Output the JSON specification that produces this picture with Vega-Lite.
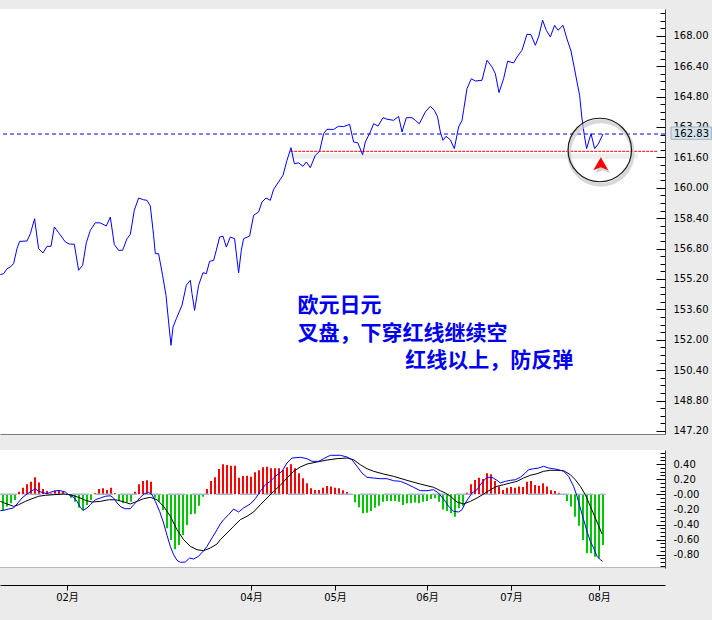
{
  "$schema": "https://vega.github.io/schema/vega-lite/v6.json",
  "background": "#ebebeb",
  "padding": {"left": 0, "top": 7, "right": 0, "bottom": 18},
  "spacing": 16,
  "bounds": "flush",
  "config": {"view": {"stroke": null, "fill": "#ffffff"}, "font": "DejaVu Sans"},
  "datasets": {
    "price": [{"d":-0.68,"v":155.43},{"d":0.15,"v":155.48},{"d":1.0,"v":155.74},{"d":1.83,"v":155.83},{"d":2.65,"v":156.01},{"d":3.5,"v":156.80},{"d":4.15,"v":157.18},{"d":6.0,"v":157.20},{"d":6.83,"v":157.58},{"d":7.9,"v":158.37},{"d":8.33,"v":157.67},{"d":8.9,"v":156.80},{"d":10.0,"v":156.57},{"d":11.0,"v":156.92},{"d":12.0,"v":156.92},{"d":12.83,"v":157.94},{"d":13.9,"v":157.64},{"d":15.58,"v":157.15},{"d":16.58,"v":157.04},{"d":17.83,"v":157.03},{"d":18.9,"v":155.66},{"d":19.9,"v":155.92},{"d":20.83,"v":157.11},{"d":21.83,"v":157.76},{"d":23.08,"v":158.16},{"d":24.33,"v":158.15},{"d":25.83,"v":157.99},{"d":26.83,"v":158.46},{"d":27.83,"v":157.01},{"d":28.9,"v":156.71},{"d":29.9,"v":156.71},{"d":31.0,"v":157.32},{"d":31.83,"v":157.55},{"d":32.83,"v":158.82},{"d":33.9,"v":159.46},{"d":35.15,"v":159.37},{"d":36.0,"v":159.34},{"d":36.83,"v":159.04},{"d":37.65,"v":157.50},{"d":38.08,"v":156.53},{"d":38.9,"v":156.53},{"d":39.9,"v":155.39},{"d":40.75,"v":154.34},{"d":41.4,"v":152.94},{"d":42.0,"v":151.71},{"d":42.5,"v":152.67},{"d":43.33,"v":153.11},{"d":44.75,"v":153.82},{"d":45.83,"v":154.87},{"d":46.83,"v":155.13},{"d":47.25,"v":154.43},{"d":47.9,"v":153.55},{"d":48.9,"v":154.87},{"d":50.0,"v":155.53},{"d":50.83,"v":155.48},{"d":51.65,"v":156.13},{"d":52.65,"v":156.18},{"d":53.33,"v":156.71},{"d":54.15,"v":157.41},{"d":55.0,"v":157.45},{"d":55.83,"v":156.88},{"d":56.83,"v":157.41},{"d":57.9,"v":157.32},{"d":58.9,"v":155.53},{"d":59.58,"v":156.71},{"d":60.15,"v":157.32},{"d":61.65,"v":157.46},{"d":62.65,"v":158.55},{"d":63.9,"v":158.73},{"d":64.75,"v":159.25},{"d":65.75,"v":159.46},{"d":66.83,"v":159.34},{"d":67.65,"v":159.92},{"d":68.9,"v":160.31},{"d":70.0,"v":160.66},{"d":71.0,"v":161.45},{"d":72.0,"v":162.11},{"d":72.83,"v":161.27},{"d":73.9,"v":161.31},{"d":75.0,"v":161.13},{"d":75.83,"v":161.36},{"d":76.83,"v":161.06},{"d":78.08,"v":161.71},{"d":79.15,"v":161.92},{"d":80.15,"v":162.85},{"d":81.0,"v":163.08},{"d":82.65,"v":163.07},{"d":83.9,"v":163.24},{"d":85.15,"v":163.22},{"d":86.65,"v":163.34},{"d":87.65,"v":162.41},{"d":88.7,"v":162.37},{"d":89.9,"v":161.74},{"d":90.58,"v":162.41},{"d":91.83,"v":162.94},{"d":92.65,"v":163.37},{"d":93.75,"v":163.25},{"d":95.0,"v":163.69},{"d":96.0,"v":163.61},{"d":97.65,"v":163.55},{"d":98.9,"v":163.76},{"d":99.75,"v":162.94},{"d":100.83,"v":163.69},{"d":102.25,"v":163.69},{"d":103.08,"v":163.55},{"d":104.08,"v":163.37},{"d":105.58,"v":163.99},{"d":106.83,"v":164.29},{"d":107.83,"v":164.08},{"d":108.65,"v":163.73},{"d":109.33,"v":162.94},{"d":110.0,"v":162.50},{"d":110.75,"v":162.71},{"d":111.83,"v":162.53},{"d":112.83,"v":162.06},{"d":113.9,"v":163.20},{"d":114.75,"v":163.55},{"d":115.15,"v":164.08},{"d":116.0,"v":165.22},{"d":117.08,"v":165.74},{"d":118.08,"v":165.62},{"d":119.75,"v":165.66},{"d":121.0,"v":166.71},{"d":122.25,"v":166.36},{"d":123.08,"v":166.01},{"d":124.0,"v":165.01},{"d":125.15,"v":165.74},{"d":126.15,"v":166.66},{"d":127.65,"v":166.57},{"d":128.5,"v":166.88},{"d":129.75,"v":167.24},{"d":131.0,"v":168.08},{"d":132.0,"v":168.06},{"d":133.08,"v":167.50},{"d":133.9,"v":167.94},{"d":134.9,"v":168.82},{"d":135.83,"v":168.29},{"d":136.83,"v":167.94},{"d":137.9,"v":168.55},{"d":138.75,"v":168.29},{"d":140.0,"v":168.55},{"d":141.0,"v":167.83},{"d":142.0,"v":167.20},{"d":142.83,"v":166.31},{"d":143.5,"v":165.57},{"d":144.15,"v":164.87},{"d":144.7,"v":163.73},{"d":145.33,"v":162.76},{"d":145.9,"v":162.06},{"d":147.0,"v":162.85},{"d":147.9,"v":162.06},{"d":148.83,"v":162.31},{"d":150.0,"v":162.83}],
    "dif": [{"d":-0.68,"v":-0.217},{"d":0.15,"v":-0.212},{"d":1.4,"v":-0.195},{"d":2.65,"v":-0.181},{"d":3.5,"v":-0.128},{"d":4.75,"v":-0.049},{"d":6.0,"v":0.004},{"d":7.25,"v":0.048},{"d":8.08,"v":0.074},{"d":8.9,"v":0.04},{"d":9.75,"v":0.026},{"d":11.0,"v":0.008},{"d":11.83,"v":0.026},{"d":13.08,"v":0.048},{"d":14.33,"v":0.048},{"d":15.58,"v":0.03},{"d":16.4,"v":-0.005},{"d":17.65,"v":-0.04},{"d":18.5,"v":-0.093},{"d":19.33,"v":-0.172},{"d":20.0,"v":-0.212},{"d":21.0,"v":-0.181},{"d":21.83,"v":-0.138},{"d":23.08,"v":-0.072},{"d":24.33,"v":-0.049},{"d":25.58,"v":-0.026},{"d":26.83,"v":-0.019},{"d":27.65,"v":-0.049},{"d":28.5,"v":-0.115},{"d":29.5,"v":-0.168},{"d":30.58,"v":-0.191},{"d":31.83,"v":-0.191},{"d":32.65,"v":-0.138},{"d":33.5,"v":-0.093},{"d":34.33,"v":-0.04},{"d":35.33,"v":0.008},{"d":36.4,"v":0.026},{"d":37.25,"v":-0.005},{"d":38.08,"v":-0.093},{"d":39.15,"v":-0.225},{"d":40.15,"v":-0.38},{"d":41.0,"v":-0.543},{"d":41.83,"v":-0.689},{"d":42.65,"v":-0.8},{"d":43.5,"v":-0.874},{"d":44.33,"v":-0.901},{"d":45.58,"v":-0.897},{"d":46.65,"v":-0.844},{"d":47.65,"v":-0.857},{"d":48.9,"v":-0.821},{"d":50.0,"v":-0.755},{"d":51.0,"v":-0.689},{"d":52.25,"v":-0.579},{"d":53.5,"v":-0.469},{"d":54.33,"v":-0.393},{"d":55.15,"v":-0.336},{"d":56.4,"v":-0.27},{"d":57.65,"v":-0.195},{"d":58.9,"v":-0.234},{"d":60.15,"v":-0.181},{"d":61.83,"v":-0.128},{"d":63.08,"v":-0.058},{"d":64.33,"v":0.04},{"d":65.58,"v":0.127},{"d":66.83,"v":0.172},{"d":68.08,"v":0.238},{"d":69.75,"v":0.305},{"d":71.0,"v":0.415},{"d":72.25,"v":0.481},{"d":74.33,"v":0.49},{"d":76.0,"v":0.472},{"d":77.25,"v":0.437},{"d":78.9,"v":0.437},{"d":80.15,"v":0.472},{"d":81.83,"v":0.517},{"d":84.33,"v":0.517},{"d":86.0,"v":0.494},{"d":87.25,"v":0.458},{"d":88.5,"v":0.371},{"d":89.75,"v":0.282},{"d":91.0,"v":0.225},{"d":92.65,"v":0.216},{"d":94.33,"v":0.207},{"d":96.0,"v":0.207},{"d":97.65,"v":0.18},{"d":99.33,"v":0.172},{"d":101.0,"v":0.136},{"d":102.65,"v":0.093},{"d":104.33,"v":0.048},{"d":106.0,"v":0.048},{"d":107.65,"v":0.061},{"d":108.9,"v":0.017},{"d":109.75,"v":-0.04},{"d":110.58,"v":-0.093},{"d":111.4,"v":-0.159},{"d":112.65,"v":-0.225},{"d":113.9,"v":-0.234},{"d":114.75,"v":-0.204},{"d":115.58,"v":-0.115},{"d":116.4,"v":-0.049},{"d":117.25,"v":0.017},{"d":118.5,"v":0.061},{"d":119.33,"v":0.127},{"d":120.15,"v":0.18},{"d":121.0,"v":0.225},{"d":122.25,"v":0.225},{"d":123.5,"v":0.185},{"d":124.33,"v":0.15},{"d":125.58,"v":0.172},{"d":126.83,"v":0.185},{"d":128.08,"v":0.193},{"d":129.33,"v":0.225},{"d":130.58,"v":0.282},{"d":131.4,"v":0.326},{"d":132.65,"v":0.339},{"d":133.9,"v":0.348},{"d":135.15,"v":0.371},{"d":136.4,"v":0.348},{"d":137.65,"v":0.339},{"d":138.9,"v":0.326},{"d":140.15,"v":0.305},{"d":141.4,"v":0.238},{"d":142.65,"v":0.106},{"d":143.5,"v":-0.026},{"d":144.33,"v":-0.181},{"d":145.15,"v":-0.336},{"d":146.0,"v":-0.49},{"d":146.83,"v":-0.623},{"d":147.65,"v":-0.711},{"d":148.5,"v":-0.821},{"d":149.33,"v":-0.866},{"d":149.9,"v":-0.887}],
    "dea": [{"d":-0.68,"v":-0.093},{"d":1.0,"v":-0.128},{"d":2.65,"v":-0.159},{"d":3.9,"v":-0.138},{"d":5.58,"v":-0.093},{"d":7.25,"v":-0.058},{"d":8.9,"v":-0.026},{"d":10.58,"v":-0.013},{"d":12.65,"v":-0.005},{"d":15.15,"v":0.004},{"d":16.83,"v":-0.005},{"d":18.9,"v":-0.04},{"d":20.58,"v":-0.079},{"d":22.25,"v":-0.102},{"d":24.33,"v":-0.093},{"d":26.4,"v":-0.072},{"d":28.08,"v":-0.072},{"d":29.75,"v":-0.093},{"d":31.83,"v":-0.128},{"d":33.5,"v":-0.093},{"d":35.15,"v":-0.058},{"d":36.83,"v":-0.04},{"d":38.5,"v":-0.072},{"d":40.15,"v":-0.159},{"d":41.83,"v":-0.291},{"d":43.5,"v":-0.469},{"d":45.15,"v":-0.601},{"d":46.83,"v":-0.689},{"d":48.5,"v":-0.734},{"d":50.15,"v":-0.747},{"d":51.83,"v":-0.711},{"d":53.5,"v":-0.658},{"d":54.33,"v":-0.601},{"d":56.0,"v":-0.513},{"d":57.65,"v":-0.424},{"d":59.33,"v":-0.336},{"d":61.0,"v":-0.291},{"d":62.65,"v":-0.234},{"d":64.33,"v":-0.138},{"d":66.0,"v":-0.049},{"d":67.65,"v":0.04},{"d":69.33,"v":0.119},{"d":71.0,"v":0.216},{"d":72.65,"v":0.305},{"d":74.33,"v":0.362},{"d":76.0,"v":0.401},{"d":78.5,"v":0.428},{"d":81.0,"v":0.454},{"d":83.5,"v":0.472},{"d":86.0,"v":0.481},{"d":87.65,"v":0.458},{"d":89.33,"v":0.392},{"d":91.0,"v":0.339},{"d":92.65,"v":0.305},{"d":95.15,"v":0.269},{"d":97.65,"v":0.238},{"d":101.0,"v":0.185},{"d":104.33,"v":0.136},{"d":107.65,"v":0.093},{"d":109.33,"v":0.048},{"d":110.58,"v":0.017},{"d":111.83,"v":-0.026},{"d":113.5,"v":-0.102},{"d":115.15,"v":-0.128},{"d":116.83,"v":-0.093},{"d":118.5,"v":-0.049},{"d":120.15,"v":0.004},{"d":121.83,"v":0.061},{"d":123.5,"v":0.106},{"d":125.15,"v":0.127},{"d":126.83,"v":0.15},{"d":128.5,"v":0.172},{"d":130.15,"v":0.216},{"d":131.83,"v":0.252},{"d":133.5,"v":0.273},{"d":135.15,"v":0.305},{"d":136.83,"v":0.318},{"d":138.5,"v":0.318},{"d":140.15,"v":0.313},{"d":141.83,"v":0.26},{"d":143.08,"v":0.193},{"d":144.33,"v":0.106},{"d":145.58,"v":-0.005},{"d":146.83,"v":-0.159},{"d":148.08,"v":-0.314},{"d":149.15,"v":-0.446},{"d":149.75,"v":-0.526}],
    "hist": [{"d":0,"h":-0.221},{"d":1,"h":-0.163},{"d":2,"h":-0.119},{"d":3,"h":-0.075},{"d":4,"h":0.035},{"d":5,"h":0.088},{"d":6,"h":0.132},{"d":7,"h":0.168},{"d":8,"h":0.225},{"d":9,"h":0.155},{"d":10,"h":0.071},{"d":11,"h":0.044},{"d":12,"h":0.013},{"d":13,"h":0.044},{"d":14,"h":0.053},{"d":15,"h":0.035},{"d":16,"h":-0.01},{"d":17,"h":-0.044},{"d":18,"h":-0.097},{"d":19,"h":-0.177},{"d":20,"h":-0.216},{"d":21,"h":-0.141},{"d":22,"h":-0.075},{"d":23,"h":0.013},{"d":24,"h":0.071},{"d":25,"h":0.079},{"d":26,"h":0.057},{"d":27,"h":0.088},{"d":28,"h":0.013},{"d":29,"h":-0.088},{"d":30,"h":-0.119},{"d":31,"h":-0.106},{"d":32,"h":-0.097},{"d":33,"h":0.035},{"d":34,"h":0.132},{"d":35,"h":0.177},{"d":36,"h":0.185},{"d":37,"h":0.168},{"d":38,"h":-0.044},{"d":39,"h":-0.097},{"d":40,"h":-0.208},{"d":41,"h":-0.45},{"d":42,"h":-0.605},{"d":43,"h":-0.728},{"d":44,"h":-0.671},{"d":45,"h":-0.539},{"d":46,"h":-0.406},{"d":47,"h":-0.265},{"d":48,"h":-0.256},{"d":49,"h":-0.15},{"d":50,"h":-0.031},{"d":51,"h":0.071},{"d":52,"h":0.177},{"d":53,"h":0.225},{"d":54,"h":0.336},{"d":55,"h":0.397},{"d":56,"h":0.389},{"d":57,"h":0.38},{"d":58,"h":0.38},{"d":59,"h":0.221},{"d":60,"h":0.243},{"d":61,"h":0.247},{"d":62,"h":0.234},{"d":63,"h":0.291},{"d":64,"h":0.318},{"d":65,"h":0.358},{"d":66,"h":0.366},{"d":67,"h":0.344},{"d":68,"h":0.344},{"d":69,"h":0.344},{"d":70,"h":0.322},{"d":71,"h":0.358},{"d":72,"h":0.397},{"d":73,"h":0.344},{"d":74,"h":0.278},{"d":75,"h":0.212},{"d":76,"h":0.146},{"d":77,"h":0.079},{"d":78,"h":0.057},{"d":79,"h":0.057},{"d":80,"h":0.088},{"d":81,"h":0.11},{"d":82,"h":0.102},{"d":83,"h":0.088},{"d":84,"h":0.079},{"d":85,"h":0.053},{"d":86,"h":0.031},{"d":87,"h":0},{"d":88,"h":-0.106},{"d":89,"h":-0.172},{"d":90,"h":-0.252},{"d":91,"h":-0.243},{"d":92,"h":-0.221},{"d":93,"h":-0.177},{"d":94,"h":-0.15},{"d":95,"h":-0.097},{"d":96,"h":-0.088},{"d":97,"h":-0.088},{"d":98,"h":-0.088},{"d":99,"h":-0.097},{"d":100,"h":-0.141},{"d":101,"h":-0.119},{"d":102,"h":-0.119},{"d":103,"h":-0.11},{"d":104,"h":-0.119},{"d":105,"h":-0.097},{"d":106,"h":-0.088},{"d":107,"h":-0.062},{"d":108,"h":-0.053},{"d":109,"h":-0.097},{"d":110,"h":-0.2},{"d":111,"h":-0.221},{"d":112,"h":-0.252},{"d":113,"h":-0.296},{"d":114,"h":-0.185},{"d":115,"h":-0.15},{"d":116,"h":0.02},{"d":117,"h":0.132},{"d":118,"h":0.19},{"d":119,"h":0.221},{"d":120,"h":0.203},{"d":121,"h":0.278},{"d":122,"h":0.265},{"d":123,"h":0.177},{"d":124,"h":0.102},{"d":125,"h":0.057},{"d":126,"h":0.088},{"d":127,"h":0.097},{"d":128,"h":0.088},{"d":129,"h":0.102},{"d":130,"h":0.097},{"d":131,"h":0.168},{"d":132,"h":0.177},{"d":133,"h":0.124},{"d":134,"h":0.115},{"d":135,"h":0.146},{"d":136,"h":0.102},{"d":137,"h":0.053},{"d":138,"h":0.044},{"d":139,"h":0.022},{"d":140,"h":0},{"d":141,"h":-0.088},{"d":142,"h":-0.163},{"d":143,"h":-0.296},{"d":144,"h":-0.415},{"d":145,"h":-0.605},{"d":146,"h":-0.781},{"d":147,"h":-0.781},{"d":148,"h":-0.826},{"d":149,"h":-0.848},{"d":150,"h":-0.671}],
    "notes": [{"d":73.65,"v":153.78,"t":"欧元日元"},{"d":73.65,"v":152.32,"t":"叉盘，下穿红线继续空"},{"d":100.58,"v":150.91,"t":"红线以上，防反弹"}],
    "last": [{"v":162.83}]
  },
  "vconcat": [
    {
      "width": 665,
      "height": 425,
      "resolve": {"axis": {"x": "independent", "y": "independent"}},
      "layer": [
        {
          "data": {"values": [{}]},
          "mark": {"type": "rect", "color": "#eeeeee"},
          "encoding": {
            "x": {"datum": 71.8, "type": "quantitative", "scale": {"domain": [-0.75, 165.5], "nice": false, "zero": false},
                  "axis": {"orient": "bottom", "title": null, "grid": false, "ticks": false, "labels": false, "domainColor": "#7a7a7a"}},
            "x2": {"datum": 158.8},
            "y": {"datum": 161.8, "type": "quantitative", "scale": {"domain": [147.042, 169.41], "nice": false, "zero": false},
                  "axis": {"orient": "right", "title": null, "grid": false,
                           "values": [147.2,147.6,148,148.4,148.8,149.2,149.6,150,150.4,150.8,151.2,151.6,152,152.4,152.8,153.2,153.6,154,154.4,154.8,155.2,155.6,156,156.4,156.8,157.2,157.6,158,158.4,158.8,159.2,159.6,160,160.4,160.8,161.2,161.6,162,162.4,162.8,163.2,163.6,164,164.4,164.8,165.2,165.6,166,166.4,166.8,167.2,167.6,168,168.4,168.8,169.2],
                           "labelExpr": "abs(round((datum.value-147.2)*10)) % 16 == 0 ? format(datum.value, '.2f') : ''",
                           "tickSize": -5,
                           "tickColor": "#000000", "domainColor": "#404040", "labelPadding": 13,
                           "labelFont": "DejaVu Sans", "labelFontSize": 10, "labelColor": "#000000", "labelOverlap": false, "labelFlush": false}},
            "y2": {"datum": 161.53}
          }
        },
        {
          "data": {"name": "last"},
          "mark": {"type": "rule", "color": "#0000ff", "strokeDash": [4, 3], "strokeWidth": 1, "clip": true},
          "encoding": {
            "y": {"field": "v", "type": "quantitative", "scale": {"domain": [147.042, 169.41], "nice": false, "zero": false},
                  "axis": {"orient": "right", "title": null, "grid": false, "labels": false, "domain": false,
                           "values": [147.2,148.8,150.4,152,153.6,155.2,156.8,158.4,160,161.6,163.2,164.8,166.4,168],
                           "tickSize": -9, "tickColor": "#000000"}}
          }
        },
        {
          "data": {"values": [{}]},
          "mark": {"type": "rule", "color": "#ff0000", "strokeDash": [3, 1], "strokeWidth": 1},
          "encoding": {
            "x": {"datum": 71.8, "type": "quantitative", "scale": {"domain": [-0.75, 165.5], "nice": false, "zero": false}, "axis": null},
            "x2": {"datum": 163.6},
            "y": {"datum": 161.92, "type": "quantitative", "scale": {"domain": [147.042, 169.41], "nice": false, "zero": false}, "axis": null}
          }
        },
        {
          "data": {"name": "price"},
          "mark": {"type": "line", "color": "#0000ff", "strokeWidth": 1, "clip": true},
          "encoding": {
            "x": {"field": "d", "type": "quantitative", "scale": {"domain": [-0.75, 165.5], "nice": false, "zero": false}, "axis": null},
            "y": {"field": "v", "type": "quantitative", "scale": {"domain": [147.042, 169.41], "nice": false, "zero": false}, "axis": null}
          }
        },
        {
          "data": {"values": [{}]},
          "mark": {"type": "point", "shape": "circle", "filled": false, "size": 4032, "stroke": "#c8c8c8", "strokeWidth": 4, "opacity": 0.7, "yOffset": 3, "xOffset": 1},
          "encoding": {
            "x": {"datum": 149.2, "type": "quantitative", "scale": {"domain": [-0.75, 165.5], "nice": false, "zero": false}, "axis": null},
            "y": {"datum": 161.99, "type": "quantitative", "scale": {"domain": [147.042, 169.41], "nice": false, "zero": false}, "axis": null}
          }
        },
        {
          "data": {"values": [{}]},
          "mark": {"type": "point", "shape": "circle", "filled": false, "size": 4032, "stroke": "#1a1a1a", "strokeWidth": 1.2, "opacity": 1},
          "encoding": {
            "x": {"datum": 149.2, "type": "quantitative", "scale": {"domain": [-0.75, 165.5], "nice": false, "zero": false}, "axis": null},
            "y": {"datum": 161.99, "type": "quantitative", "scale": {"domain": [147.042, 169.41], "nice": false, "zero": false}, "axis": null}
          }
        },
        {
          "data": {"values": [{}]},
          "mark": {"type": "point", "shape": "M0,-0.87L1,0.87L0,0.47L-1,0.87Z", "filled": true, "size": 225, "color": "#9a9a9a", "opacity": 0.45, "xOffset": 2, "yOffset": 3},
          "encoding": {
            "x": {"datum": 149.45, "type": "quantitative", "scale": {"domain": [-0.75, 165.5], "nice": false, "zero": false}, "axis": null},
            "y": {"datum": 161.27, "type": "quantitative", "scale": {"domain": [147.042, 169.41], "nice": false, "zero": false}, "axis": null}
          }
        },
        {
          "data": {"values": [{}]},
          "mark": {"type": "point", "shape": "M0,-0.87L1,0.87L0,0.47L-1,0.87Z", "filled": true, "size": 225, "color": "#ff0000", "opacity": 1},
          "encoding": {
            "x": {"datum": 149.45, "type": "quantitative", "scale": {"domain": [-0.75, 165.5], "nice": false, "zero": false}, "axis": null},
            "y": {"datum": 161.27, "type": "quantitative", "scale": {"domain": [147.042, 169.41], "nice": false, "zero": false}, "axis": null}
          }
        },
        {
          "data": {"name": "notes"},
          "mark": {"type": "text", "align": "left", "baseline": "middle", "font": "Noto Sans CJK SC", "fontSize": 21, "fontWeight": "bold", "color": "#0000ee"},
          "encoding": {
            "x": {"field": "d", "type": "quantitative", "scale": {"domain": [-0.75, 165.5], "nice": false, "zero": false}, "axis": null},
            "y": {"field": "v", "type": "quantitative", "scale": {"domain": [147.042, 169.41], "nice": false, "zero": false}, "axis": null},
            "text": {"field": "t", "type": "nominal"}
          }
        },
        {
          "data": {"values": [{}]},
          "mark": {"type": "rect", "fill": "#d3e3ec", "stroke": "#9fb2c2", "strokeWidth": 1},
          "encoding": {
            "x": {"datum": 167.0, "type": "quantitative", "scale": {"domain": [-0.75, 165.5], "nice": false, "zero": false}, "axis": null},
            "x2": {"datum": 177.1},
            "y": {"datum": 163.2, "type": "quantitative", "scale": {"domain": [147.042, 169.41], "nice": false, "zero": false}, "axis": null},
            "y2": {"datum": 162.55}
          }
        },
        {
          "data": {"name": "last"},
          "mark": {"type": "text", "align": "left", "baseline": "middle", "font": "DejaVu Sans", "fontSize": 10, "color": "#000000"},
          "encoding": {
            "x": {"datum": 167.75, "type": "quantitative", "scale": {"domain": [-0.75, 165.5], "nice": false, "zero": false}, "axis": null},
            "y": {"field": "v", "type": "quantitative", "scale": {"domain": [147.042, 169.41], "nice": false, "zero": false}, "axis": null},
            "text": {"field": "v", "type": "quantitative", "format": ".2f"}
          }
        }
      ]
    },
    {
      "width": 665,
      "height": 118,
      "resolve": {"axis": {"x": "independent", "y": "independent"}},
      "layer": [
        {
          "data": {"name": "hist"},
          "mark": {"type": "rule", "strokeWidth": 2, "clip": true},
          "encoding": {
            "x": {"field": "d", "type": "quantitative", "scale": {"domain": [-0.75, 165.5], "nice": false, "zero": false},
                  "axis": {"orient": "bottom", "offset": 17, "title": null, "grid": false,
                           "values": [16, 62, 83, 106, 127, 149],
                           "labelExpr": "datum.value < 20 ? '02月' : datum.value < 70 ? '04月' : datum.value < 90 ? '05月' : datum.value < 110 ? '06月' : datum.value < 130 ? '07月' : '08月'",
                           "tickSize": 5, "tickColor": "#000000", "domainColor": "#000000",
                           "labelFont": "DejaVu Sans, Noto Sans CJK SC", "labelFontSize": 10, "labelColor": "#000000", "labelPadding": 2, "labelFlush": false, "labelOverlap": false}},
            "y": {"field": "h", "type": "quantitative", "scale": {"domain": [-0.976, 0.587], "nice": false, "zero": false},
                  "axis": {"orient": "right", "title": null, "grid": false,
                           "values": [-0.95,-0.9,-0.85,-0.8,-0.75,-0.7,-0.65,-0.6,-0.55,-0.5,-0.45,-0.4,-0.35,-0.3,-0.25,-0.2,-0.15,-0.1,-0.05,0,0.05,0.1,0.15,0.2,0.25,0.3,0.35,0.4,0.45,0.5,0.55],
                           "labelExpr": "abs(round(datum.value*100)) % 20 == 0 ? (datum.value == 0 ? '-0.00' : replace(format(datum.value, '.2f'), '−', '-')) : ''",
                           "tickSize": -5,
                           "tickColor": "#000000", "domainColor": "#404040", "labelPadding": 13,
                           "labelFont": "DejaVu Sans", "labelFontSize": 10, "labelColor": "#000000", "labelOverlap": false, "labelFlush": false}},
            "y2": {"datum": 0},
            "color": {"condition": {"test": "datum.h >= 0", "value": "#ff0000"}, "value": "#00c800"}
          }
        },
        {
          "data": {"values": [{}]},
          "mark": {"type": "rule", "color": "#a6b4cc", "strokeDash": [17, 7], "strokeWidth": 1.5, "clip": true},
          "encoding": {
            "x": {"datum": -0.75, "type": "quantitative", "scale": {"domain": [-0.75, 165.5], "nice": false, "zero": false}, "axis": null},
            "x2": {"datum": 150.6},
            "y": {"datum": 0, "type": "quantitative", "scale": {"domain": [-0.976, 0.587], "nice": false, "zero": false},
                  "axis": {"orient": "right", "title": null, "grid": false, "labels": false, "domain": false,
                           "values": [-0.8, -0.6, -0.4, -0.2, 0, 0.2, 0.4], "tickSize": -9, "tickColor": "#000000"}}
          }
        },
        {
          "data": {"name": "dea"},
          "mark": {"type": "line", "color": "#000000", "strokeWidth": 1, "clip": true},
          "encoding": {
            "x": {"field": "d", "type": "quantitative", "scale": {"domain": [-0.75, 165.5], "nice": false, "zero": false}, "axis": null},
            "y": {"field": "v", "type": "quantitative", "scale": {"domain": [-0.976, 0.587], "nice": false, "zero": false}, "axis": null}
          }
        },
        {
          "data": {"name": "dif"},
          "mark": {"type": "line", "color": "#0000ff", "strokeWidth": 1, "clip": true},
          "encoding": {
            "x": {"field": "d", "type": "quantitative", "scale": {"domain": [-0.75, 165.5], "nice": false, "zero": false}, "axis": null},
            "y": {"field": "v", "type": "quantitative", "scale": {"domain": [-0.976, 0.587], "nice": false, "zero": false}, "axis": null}
          }
        },
        {
          "data": {"values": [{}]},
          "mark": {"type": "rule", "color": "#707070", "strokeWidth": 1, "clip": true},
          "encoding": {
            "y": {"datum": -0.976, "type": "quantitative", "scale": {"domain": [-0.976, 0.587], "nice": false, "zero": false}, "axis": null}
          }
        }
      ]
    }
  ]
}
